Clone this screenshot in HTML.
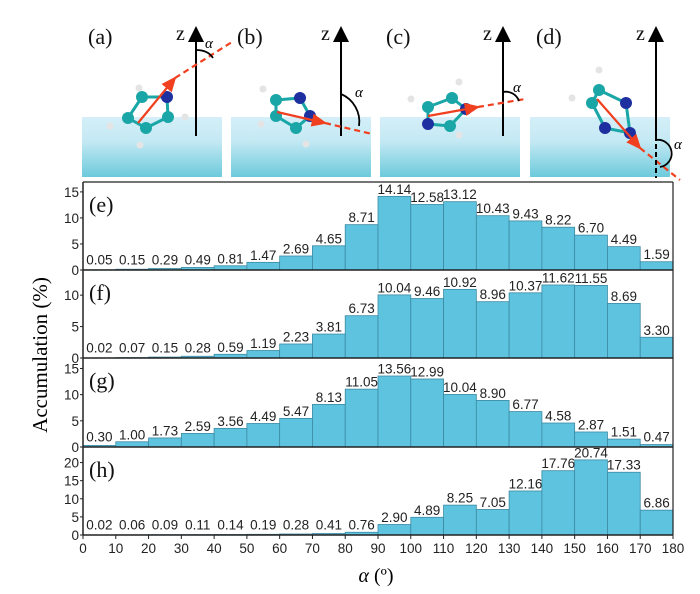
<!DOCTYPE html>
<html><head><meta charset="utf-8"><style>
html,body{margin:0;padding:0;background:#fff;}
svg{display:block;}
text{font-family:"Liberation Sans",Arial,sans-serif;}
.serif{font-family:"Liberation Serif","Times New Roman",serif;}
</style></head><body>
<svg id="fig" width="700" height="594" viewBox="0 0 700 594">
<defs>
<linearGradient id="water" x1="0" y1="0" x2="0" y2="1">
<stop offset="0" stop-color="#d4eff8"/><stop offset="0.4" stop-color="#c4e9f4"/><stop offset="1" stop-color="#6ccadb"/>
</linearGradient>
<marker id="arr" markerWidth="8" markerHeight="8" refX="7" refY="4" orient="auto"><path d="M0,0 L8,4 L0,8 z" fill="#000"/></marker>
<marker id="rarr" markerWidth="8" markerHeight="8" refX="6" refY="4" orient="auto"><path d="M0,1 L7,4 L0,7 z" fill="#f04020"/></marker>
</defs>
<g id="schematics"></g>
<g id="charts"></g>
<text class="serif" x="47" y="355" font-size="21" text-anchor="middle" transform="rotate(-90 47 355)">Accumulation (%)</text>
<text class="serif" x="376" y="582" font-size="20" text-anchor="middle"><tspan font-style="italic">α</tspan> (º)</text>
</svg>
<script>
const categories = [0,10,20,30,40,50,60,70,80,90,100,110,120,130,140,150,160,170];
const xTicks = [0,10,20,30,40,50,60,70,80,90,100,110,120,130,140,150,160,170,180];
const seriesE = [0.05,0.15,0.29,0.49,0.81,1.47,2.69,4.65,8.71,14.14,12.58,13.12,10.43,9.43,8.22,6.70,4.49,1.59];
const seriesF = [0.02,0.07,0.15,0.28,0.59,1.19,2.23,3.81,6.73,10.04,9.46,10.92,8.96,10.37,11.62,11.55,8.69,3.30];
const seriesG = [0.30,1.00,1.73,2.59,3.56,4.49,5.47,8.13,11.05,13.56,12.99,10.04,8.90,6.77,4.58,2.87,1.51,0.47];
const seriesH = [0.02,0.06,0.09,0.11,0.14,0.19,0.28,0.41,0.76,2.90,4.89,8.25,7.05,12.16,17.76,20.74,17.33,6.86];
const ticksE = [0,5,10,15];
const ticksF = [0,5,10];
const ticksG = [0,5,10,15];
const ticksH = [0,5,10,15,20];
const panelNames = ["(e)","(f)","(g)","(h)"];

const NS="http://www.w3.org/2000/svg";
function mk(tag,attrs,parent,txt){const e=document.createElementNS(NS,tag);for(const k in attrs)e.setAttribute(k,attrs[k]);if(txt!==undefined)e.textContent=txt;parent.appendChild(e);return e;}
const X0=83,X1=673;
const xs=v=>X0+(v-0)/(180-0)*(X1-X0);
const charts=document.getElementById('charts');
const panels=[
 {data:seriesE,ticks:ticksE,top:182,bottom:270,ymax:16.9,key:'e'},
 {data:seriesF,ticks:ticksF,top:270,bottom:358,ymax:14,key:'f'},
 {data:seriesG,ticks:ticksG,top:358,bottom:447,ymax:17,key:'g'},
 {data:seriesH,ticks:ticksH,top:447,bottom:535,ymax:24.3,key:'h'}
];
panels.forEach((p,pi)=>{
 const g=mk('g',{},charts);
 
 
 const ys=v=>p.bottom-v/p.ymax*(p.bottom-p.top);
 p.data.forEach((v,i)=>{
  const x=xs(categories[i]),w=xs(categories[i]+10)-x;
  const r=mk('rect',{x:x,y:ys(v),width:w,height:p.bottom-ys(v),fill:'#5ec3df',stroke:'#3b8aa3','stroke-width':0.8},g);
  
  
  const t=mk('text',{x:x+w/2,y:Math.min(ys(v),p.bottom-3)-2.5,'font-size':13.5,'text-anchor':'middle',fill:'#222'},g,v.toFixed(2));
  
  
 });
 mk('line',{x1:X0,y1:p.top,x2:X0,y2:p.bottom,stroke:'#222','stroke-width':1.5},g);
 mk('line',{x1:X1,y1:p.top,x2:X1,y2:p.bottom,stroke:'#222','stroke-width':1.2},g);
 mk('line',{x1:X0,y1:p.bottom,x2:X1,y2:p.bottom,stroke:'#222','stroke-width':1.5},g);
 if(pi===0) mk('line',{x1:X0,y1:p.top,x2:X1,y2:p.top,stroke:'#222','stroke-width':1.2},g);
 p.ticks.forEach(t=>{
  const y=ys(t);
  mk('line',{x1:X0-3,y1:y,x2:X0,y2:y,stroke:'#222','stroke-width':1},g);
  const tl=mk('text',{x:X0-4,y:y+5,'font-size':13.5,'text-anchor':'end',fill:'#222'},g,String(t));
  
  
 });
 const pl=mk('text',{x:89,y:p.top+30,'font-size':22,'class':'serif',fill:'#111'},g,panelNames[pi]);
 
 
});
xTicks.forEach(t=>{
 mk('line',{x1:xs(t),y1:535,x2:xs(t),y2:539,stroke:'#222','stroke-width':1},charts);
 const tl=mk('text',{x:xs(t),y:553,'font-size':13.5,'text-anchor':'middle',fill:'#222'},charts,String(t));
 
 
});

// schematics
const sch=document.getElementById('schematics');
const boxes=[
 {x:82,lbl:'(a)',zx:196},
 {x:231,lbl:'(b)',zx:341},
 {x:380,lbl:'(c)',zx:503},
 {x:530,lbl:'(d)',zx:656}
];
boxes.forEach((b,i)=>{
 const g=mk('g',{},sch);
 
 
 mk('rect',{x:b.x,y:117,width:140,height:60,fill:'url(#water)'},g);
 mk('text',{x:b.x+6,y:44,'font-size':22,'class':'serif',fill:'#111'},g,b.lbl);
 mk('line',{x1:b.zx,y1:136,x2:b.zx,y2:28,stroke:'#000','stroke-width':2,'marker-end':'url(#arr)'},g);
 mk('text',{x:b.zx-20,y:40,'font-size':20,'class':'serif',fill:'#111'},g,'z');
});
function atom(x,y,c,r){mk('circle',{cx:x,cy:y,r:r,fill:c},sch);}
const C='#1aa6a6',N='#1e2fa0',H='#e4e4e4';
function bond(a,b){mk('line',{x1:a[0],y1:a[1],x2:b[0],y2:b[1],stroke:'#1aa6a6','stroke-width':3},sch);}
const mols=[
 [[142,97,C],[167,97,N],[168,117,C],[146,128,C],[128,118,C]],
 [[276,100,C],[300,98,N],[310,116,N],[296,128,C],[276,116,C]],
 [[428,107,C],[452,98,C],[466,109,N],[450,126,C],[428,124,N]],
 [[599,90,C],[626,103,N],[630,133,N],[605,128,N],[592,103,C]]
];
[[139,88],[110,126],[140,145],[185,117],[263,89],[261,124],[306,144],[411,99],[459,82],[459,135],[599,70],[572,98]].forEach(p=>atom(p[0],p[1],H,3.5));
mols.forEach(pts=>{
 for(let i=0;i<pts.length;i++)bond(pts[i],pts[(i+1)%pts.length]);
 pts.forEach(p=>atom(p[0],p[1],p[2],6));
});
const vec=[[138,123,175,78,232,42],[277,112,325,123,372,134],[428,116,478,107,525,99],[597,99,640,148,680,180]];
vec.forEach(v=>{
 mk('line',{x1:v[0],y1:v[1],x2:v[2],y2:v[3],stroke:'#f04020','stroke-width':2.2,'marker-end':'url(#rarr)'},sch);
 mk('line',{x1:v[2],y1:v[3],x2:v[4],y2:v[5],stroke:'#f04020','stroke-width':2.2,'stroke-dasharray':'6,4'},sch);
});
mk('path',{d:'M196,50 Q208,50 213,58',fill:'none',stroke:'#000','stroke-width':1.8},sch);
mk('text',{x:205,y:48,'font-size':15,'font-style':'italic','class':'serif'},sch,'α');
mk('path',{d:'M341,94 A30,30 0 0 1 359,126',fill:'none',stroke:'#000','stroke-width':1.8},sch);
mk('text',{x:355,y:97,'font-size':15,'font-style':'italic','class':'serif'},sch,'α');
mk('path',{d:'M503,92 A14,14 0 0 1 519,101',fill:'none',stroke:'#000','stroke-width':1.8},sch);
mk('text',{x:513,y:92,'font-size':15,'font-style':'italic','class':'serif'},sch,'α');
mk('line',{x1:656,y1:136,x2:656,y2:178,stroke:'#000','stroke-width':2,'stroke-dasharray':'5,3'},sch);
mk('path',{d:'M656,140 A13,13 0 0 1 660,167',fill:'none',stroke:'#000','stroke-width':1.8},sch);
mk('text',{x:674,y:149,'font-size':15,'font-style':'italic','class':'serif'},sch,'α');
</script>
</body></html>
